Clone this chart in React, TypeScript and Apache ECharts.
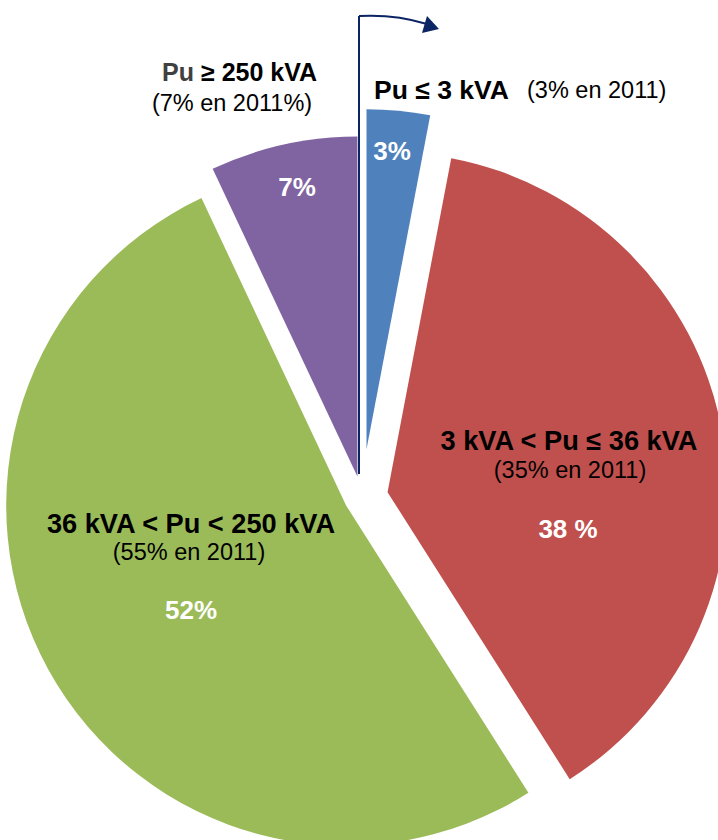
import React, { useEffect, useRef } from "react";
import * as echarts from "echarts";

// Data
const categories = ["Pu ≤ 3 kVA", "3 kVA < Pu ≤ 36 kVA", "36 kVA < Pu < 250 kVA", "Pu ≥ 250 kVA"];
const shares2012 = [3, 38, 52, 7];
const shares2011 = [3, 35, 55, 7];
const pctLabels = ["3%", "38 %", "52%", "7%"];
const label2011 = ["(3% en 2011)", "(35% en 2011)", "(55% en 2011)", "(7% en 2011%)"];

// Styles / layout
const colors = ["#4f81bd", "#c0504d", "#9bbb59", "#8064a2"];
const explode = [48, 26, 18, 21];
const CENTER = [362, 497];
const RADIUS = 340;
const FONT = "'Liberation Sans', Arial, sans-serif";
const NAVY = "#0b2463";

export default function App() {
  const ref = useRef<HTMLDivElement>(null);
  useEffect(() => {
    document.body.style.margin = "0";
    const chart = echarts.init(ref.current!, null, { renderer: "svg" });

    const series = categories.map((_, i) => ({
      type: "pie",
      center: CENTER,
      radius: RADIUS,
      startAngle: 90,
      clockwise: true,
      silent: true,
      selectedMode: "single",
      selectedOffset: explode[i],
      label: { show: false },
      labelLine: { show: false },
      emphasis: { disabled: true },
      z: 2,
      data: shares2012.map((v, j) => ({
        value: v,
        name: categories[j],
        selected: j === i,
        itemStyle: j === i ? { color: colors[j], opacity: 1 } : { color: colors[j], opacity: 0 },
      })),
    }));

    const bold = (t: string, x: number, y: number, fill: string, align = "center", size = 26) => ({
      type: "text",
      x,
      y,
      z: 10,
      style: { text: t, fill, font: `bold ${size}px ${FONT}`, align, verticalAlign: "middle" },
    });
    const normal = (t: string, x: number, y: number, align = "center") => ({
      type: "text",
      x,
      y,
      z: 10,
      style: { text: t, fill: "#000", font: `23.5px ${FONT}`, align, verticalAlign: "middle" },
    });

    const puGe = categories[3].split(" ");
    const graphic: any[] = [
      // arrow
      {
        type: "polyline",
        z: 9,
        shape: { points: [[359, 474], [359, 16]] },
        style: { stroke: NAVY, lineWidth: 2, fill: null },
      },
      {
        type: "bezierCurve",
        z: 9,
        shape: { x1: 359, y1: 16, cpx1: 395, cpy1: 14, x2: 427, y2: 24 },
        style: { stroke: NAVY, lineWidth: 2, fill: null },
      },
      {
        type: "polygon",
        z: 9,
        shape: { points: [[439, 29], [427, 16], [422, 33]] },
        style: { fill: NAVY },
      },
      // Pu >= 250 kVA
      bold(puGe[0], 162, 72, "#404040", "left", 25),
      bold(puGe.slice(1).join(" "), 201, 72, "#000", "left", 25),
      normal(label2011[3], 232, 103),
      // Pu <= 3 kVA
      bold(categories[0], 374, 90, "#000", "left", 26.5),
      normal(label2011[0], 527, 90, "left"),
      bold(pctLabels[0], 392, 151, "#fff"),
      bold(pctLabels[3], 297, 187, "#fff"),
      // red
      bold(categories[1], 569, 440, "#000", "center", 27.2),
      normal(label2011[1], 570, 470),
      bold(pctLabels[1], 568, 529, "#fff"),
      // green
      bold(categories[2], 191, 523, "#000", "center", 27.2),
      normal(label2011[2], 189, 552),
      bold(pctLabels[2], 191, 610, "#fff"),
    ];

    chart.setOption({
      animation: false,
      backgroundColor: "#fff",
      series,
      graphic,
    });
    return () => chart.dispose();
  }, []);
  return <div ref={ref} style={{ position: "absolute", left: 0, top: 0, width: 718, height: 840 }} />;
}
